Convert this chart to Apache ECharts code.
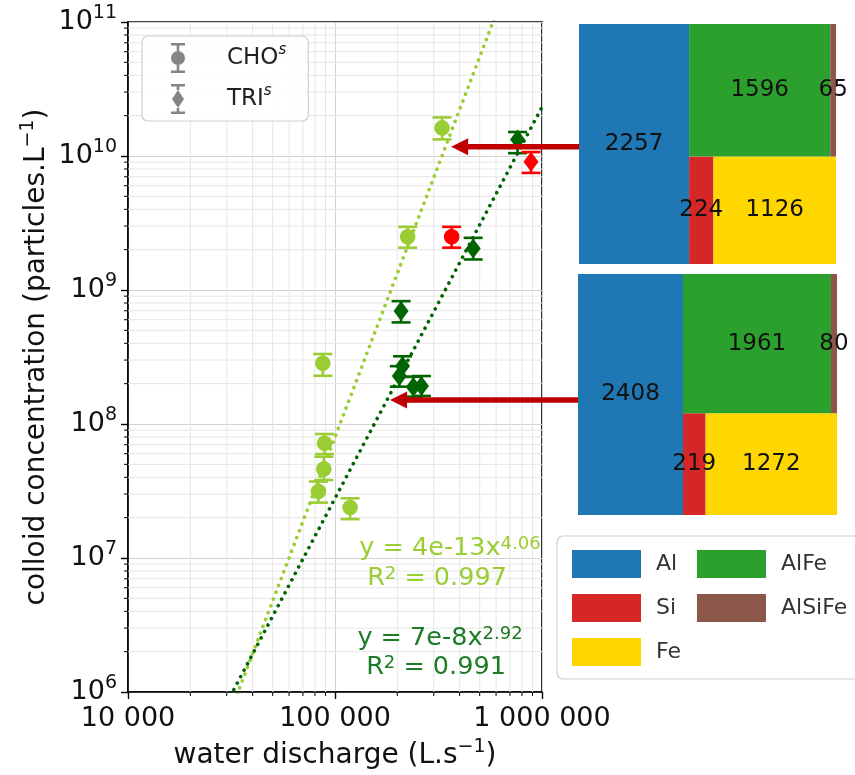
<!DOCTYPE html>
<html><head><meta charset="utf-8">
<script src="https://cdn.jsdelivr.net/npm/echarts@6/dist/echarts.min.js"></script>
<style>html,body{margin:0;padding:0;background:#fff}#c{width:855px;height:775px}</style>
</head><body><div id="c"></div>
<script>
// ---------------- data ----------------
const xTicks = [10000, 100000, 1000000];
const yTicks = [1e6, 1e7, 1e8, 1e9, 1e10, 1e11];

// CHO^s (circles)
const choX   = [329000, 224400, 366000, 87300, 89000, 88300, 83200, 118300];
const choY   = [1.62e10, 2.50e9, 2.50e9, 2.84e8, 7.18e7, 4.61e7, 3.13e7, 2.38e7];
const choLo  = [1.33e10, 2.07e9, 2.07e9, 2.29e8, 5.97e7, 3.82e7, 2.59e7, 1.95e7];
const choHi  = [1.94e10, 2.96e9, 2.96e9, 3.33e8, 8.42e7, 5.70e7, 3.72e7, 2.79e7];
const choRed = [0, 0, 1, 0, 0, 0, 0, 0];

// TRI^s (diamonds)
const triX   = [762000, 885000, 465000, 208500, 212000, 204600, 239000, 261500];
const triY   = [1.33e10, 9.04e9, 2.04e9, 6.96e8, 2.71e8, 2.28e8, 1.89e8, 1.92e8];
const triLo  = [1.05e10, 7.48e9, 1.69e9, 5.73e8, 2.25e8, 1.90e8, 1.60e8, 1.62e8];
const triHi  = [1.51e10, 1.07e10, 2.45e9, 8.26e8, 3.20e8, 2.70e8, 2.25e8, 2.28e8];
const triRed = [0, 1, 0, 0, 0, 0, 0, 0];

// power-law fits  y = a * x^b
const fitCHO = [4e-13, 4.06]; const r2CHO = 0.997;
const fitTRI = [7e-8, 2.92];  const r2TRI = 0.991;

// composition mosaics
const elements    = ['Al', 'Si', 'Fe', 'AlFe', 'AlSiFe'];
const panelTop    = [2257, 224, 1126, 1596, 65];
const panelBottom = [2408, 219, 1272, 1961, 80];

// arrows (data space of main plot)
const arrowTipX  = [364000, 184500];
const arrowY     = [1.17e10, 1.51e8];
const arrowTailX = [1.55e6, 1.55e6];

// ---------------- styles ----------------
const FONT = 'DejaVu Sans';
const LIGHT = '#9acd32', DARK = '#006400', RED = '#ff0000', EQDARK = '#1e7b25';
const elemColors = ['#1f77b4', '#d62728', '#ffd700', '#2ca02c', '#8c564b'];

// ---------------- squarify (same algorithm as python squarify) ----------------
const sum = a => a.reduce((s, v) => s + v, 0);
function layoutRow(s, x, y, dx, dy) { const w = sum(s) / dy; return s.map(v => { const r = {x, y, dx: w, dy: v / w}; y += v / w; return r; }); }
function layoutCol(s, x, y, dx, dy) { const h = sum(s) / dx; return s.map(v => { const r = {x, y, dx: v / h, dy: h}; x += v / h; return r; }); }
function layout(s, x, y, dx, dy) { return dx >= dy ? layoutRow(s, x, y, dx, dy) : layoutCol(s, x, y, dx, dy); }
function leftover(s, x, y, dx, dy) {
  const c = sum(s);
  if (dx >= dy) { const w = c / dy; return [x + w, y, dx - w, dy]; }
  const h = c / dx; return [x, y + h, dx, dy - h];
}
function worst(s, x, y, dx, dy) { return Math.max(...layout(s, x, y, dx, dy).map(r => Math.max(r.dx / r.dy, r.dy / r.dx))); }
function squarify(s, x, y, dx, dy) {
  if (!s.length) return [];
  if (s.length === 1) return layout(s, x, y, dx, dy);
  let i = 1;
  while (i < s.length && worst(s.slice(0, i), x, y, dx, dy) >= worst(s.slice(0, i + 1), x, y, dx, dy)) i++;
  const cur = s.slice(0, i), rem = s.slice(i);
  return layout(cur, x, y, dx, dy).concat(squarify(rem, ...leftover(cur, x, y, dx, dy)));
}
function mosaic(values) {
  const t = sum(values);
  return squarify(values.map(v => v / t * 10000), 0, 0, 100, 100);
}

function panelSeries(values, idx) {
  const rects = mosaic(values);
  return elements.map((name, i) => ({
    type: 'custom', name, xAxisIndex: idx, yAxisIndex: idx, z: 7, clip: false, silent: true,
    itemStyle: {color: elemColors[i]},
    data: [[rects[i].x, rects[i].y, rects[i].dx, rects[i].dy, values[i]]],
    renderItem: (p, api) => {
      const a = api.coord([api.value(0), api.value(1) + api.value(3)]);
      const b = api.coord([api.value(0) + api.value(2), api.value(1)]);
      return {type: 'group', children: [
        {type: 'rect', shape: {x: a[0], y: a[1], width: b[0] - a[0], height: b[1] - a[1]}, style: {fill: api.visual('color')}},
        {type: 'text', z2: 20, x: (a[0] + b[0]) / 2, y: (a[1] + b[1]) / 2,
         style: {text: String(api.value(4)), fill: '#111', fontSize: 23, fontFamily: FONT, align: 'center', verticalAlign: 'middle'}}
      ]};
    }
  }));
}

function errSeries(name, X, Y, Lo, Hi, Red, shape) {
  return {
    type: 'custom', name, xAxisIndex: 0, yAxisIndex: 0, z: 4, clip: false,
    data: X.map((x, i) => [x, Y[i], Lo[i], Hi[i], Red[i]]),
    renderItem: (p, api) => {
      const c = api.coord([api.value(0), api.value(1)]);
      const t = api.coord([api.value(0), api.value(3)]);
      const b = api.coord([api.value(0), api.value(2)]);
      const col = api.value(4) ? RED : (shape === 'circle' ? LIGHT : DARK);
      const ls = {stroke: col, lineWidth: 2.6};
      const marker = shape === 'circle'
        ? {type: 'circle', shape: {cx: c[0], cy: c[1], r: 7.8}, style: {fill: col}}
        : {type: 'polygon', shape: {points: [[c[0], c[1] - 10], [c[0] + 7.5, c[1]], [c[0], c[1] + 10], [c[0] - 7.5, c[1]]]}, style: {fill: col}};
      return {type: 'group', children: [
        {type: 'line', shape: {x1: c[0], y1: t[1], x2: c[0], y2: b[1]}, style: ls},
        {type: 'line', shape: {x1: c[0] - 9.5, y1: t[1], x2: c[0] + 9.5, y2: t[1]}, style: ls},
        {type: 'line', shape: {x1: c[0] - 9.5, y1: b[1], x2: c[0] + 9.5, y2: b[1]}, style: ls},
        marker
      ]};
    }
  };
}

function fitSeries(fit, color) {
  const x0 = xTicks[0], x1 = xTicks[xTicks.length - 1];
  return {
    type: 'line', xAxisIndex: 0, yAxisIndex: 0, z: 2, symbol: 'none', silent: true,
    data: [[x0, fit[0] * Math.pow(x0, fit[1])], [x1, fit[0] * Math.pow(x1, fit[1])]],
    lineStyle: {color, width: 3.6, type: [0.1, 7.2], cap: 'round'}
  };
}

// minor decades (2..9 x 10^k)
const xMinor = [], yMinor = [];
for (let k = 0; k < xTicks.length - 1; k++) for (let m = 2; m <= 9; m++) xMinor.push(m * xTicks[k]);
for (let k = 0; k < yTicks.length - 1; k++) for (let m = 2; m <= 9; m++) yMinor.push(m * yTicks[k]);

const minorSeries = {
  type: 'custom', xAxisIndex: 0, yAxisIndex: 0, z: 1, clip: false, silent: true,
  data: xMinor.map(v => [v, 0]).concat(yMinor.map(v => [v, 1])),
  renderItem: (p, api) => {
    const v = api.value(0), isY = api.value(1) === 1;
    const xmin = xTicks[0], xmax = xTicks[xTicks.length - 1], ymin = yTicks[0], ymax = yTicks[yTicks.length - 1];
    const grid = {stroke: '#e6e6e6', lineWidth: 1};
    const tick = {stroke: '#000', lineWidth: 1};
    if (!isY) {
      const a = api.coord([v, ymin]), b = api.coord([v, ymax]);
      return {type: 'group', children: [
        {type: 'line', shape: {x1: a[0], y1: a[1], x2: b[0], y2: b[1]}, style: grid},
        {type: 'line', shape: {x1: a[0], y1: a[1], x2: a[0], y2: a[1] + 4}, style: tick}
      ]};
    }
    const a = api.coord([xmin, v]), b = api.coord([xmax, v]);
    return {type: 'group', children: [
      {type: 'line', shape: {x1: a[0], y1: a[1], x2: b[0], y2: b[1]}, style: grid},
      {type: 'line', shape: {x1: a[0] - 4, y1: a[1], x2: a[0], y2: a[1]}, style: tick}
    ]};
  }
};

const arrowSeries = {
  type: 'custom', xAxisIndex: 0, yAxisIndex: 0, z: 6, clip: false, silent: true,
  data: arrowTipX.map((x, i) => [x, arrowY[i], arrowTailX[i]]),
  renderItem: (p, api) => {
    const tip = api.coord([api.value(0), api.value(1)]);
    const tail = api.coord([api.value(2), api.value(1)]);
    const col = '#c00000';
    return {type: 'group', children: [
      {type: 'line', shape: {x1: tip[0] + 14, y1: tip[1], x2: tail[0], y2: tail[1]}, style: {stroke: col, lineWidth: 5.5}},
      {type: 'polygon', shape: {points: [[tip[0], tip[1]], [tip[0] + 17, tip[1] - 8.5], [tip[0] + 17, tip[1] + 8.5]]}, style: {fill: col}}
    ]};
  }
};

const fmtThousands = v => String(Math.round(v)).replace(/\B(?=(\d{3})+(?!\d))/g, ' ');
const supRich = {
  b: {fontSize: 27, fontFamily: FONT, color: '#111', lineHeight: 36},
  s: {fontSize: 19, fontFamily: FONT, color: '#111', lineHeight: 19, verticalAlign: 'top'}
};

const circleIcon = 'path://M2,0H16V2.6H2ZM7.7,2.6H10.3V8H7.7ZM7.7,22H10.3V27.4H7.7ZM2,27.4H16V30H2ZM2,15A7,7 0 1,1 16,15A7,7 0 1,1 2,15Z';
const diamondIcon = 'path://M2,0H16V2.6H2ZM7.7,2.6H10.3V6H7.7ZM7.7,24H10.3V27.4H7.7ZM2,27.4H16V30H2ZM9,6L15,15L9,24L3,15Z';

const sup = t => '{s|' + t + '}';
const eqText = (x, y, text, color) => ({
  type: 'text', x, y, z: 10,
  style: {text, fill: color, fontSize: 25.5, fontFamily: FONT, align: 'center', verticalAlign: 'middle',
          rich: {s: {fontSize: 18, lineHeight: 18, verticalAlign: 'top', fontFamily: FONT, fill: color}}}
});
const fmtCoef = a => a.toExponential(0).replace('+', '');

const option = {
  backgroundColor: '#fff',
  animation: false,
  grid: [
    {left: 128, top: 22, width: 414, height: 670, show: true, borderColor: '#000', borderWidth: 1.6, outerBoundsMode: 'none'},
    {left: 579, top: 24, width: 257, height: 240, show: false, outerBoundsMode: 'none'},
    {left: 578, top: 274, width: 259, height: 241, show: false, outerBoundsMode: 'none'}
  ],
  xAxis: [
    {type: 'log', logBase: 10, min: xTicks[0], max: xTicks[xTicks.length - 1], gridIndex: 0,
     name: 'water discharge (L.s' + sup('−1') + ')', nameLocation: 'middle', nameGap: 46,
     nameTextStyle: {fontSize: 28, fontFamily: FONT, color: '#111', lineHeight: 36,
       rich: {s: {fontSize: 19, lineHeight: 19, verticalAlign: 'top', fontFamily: FONT, color: '#111'}}},
     axisLine: {show: true, lineStyle: {color: '#000', width: 1.6}},
     axisTick: {show: true, inside: false, length: 7, lineStyle: {color: '#000', width: 1.4}},
     axisLabel: {formatter: fmtThousands, fontSize: 27, fontFamily: FONT, color: '#111', margin: 13},
     splitLine: {show: true, lineStyle: {color: '#d2d2d2', width: 1}},
     minorTick: {show: false}, minorSplitLine: {show: false}},
    {type: 'value', gridIndex: 1, min: 0, max: 100, show: false},
    {type: 'value', gridIndex: 2, min: 0, max: 100, show: false}
  ],
  yAxis: [
    {type: 'log', logBase: 10, min: yTicks[0], max: yTicks[yTicks.length - 1], gridIndex: 0,
     name: 'colloid concentration (particles.L' + sup('−1') + ')', nameLocation: 'middle', nameGap: 72, nameRotate: 90,
     nameTextStyle: {fontSize: 28, fontFamily: FONT, color: '#111', lineHeight: 36,
       rich: {s: {fontSize: 19, lineHeight: 19, verticalAlign: 'top', fontFamily: FONT, color: '#111'}}},
     axisLine: {show: true, lineStyle: {color: '#000', width: 1.6}},
     axisTick: {show: true, inside: false, length: 7, lineStyle: {color: '#000', width: 1.4}},
     axisLabel: {formatter: v => '{b|10}{s|' + Math.round(Math.log10(v)) + '}', rich: supRich, margin: 11},
     splitLine: {show: true, lineStyle: {color: '#d2d2d2', width: 1}},
     minorTick: {show: false}, minorSplitLine: {show: false}},
    {type: 'value', gridIndex: 1, min: 0, max: 100, show: false},
    {type: 'value', gridIndex: 2, min: 0, max: 100, show: false}
  ],
  legend: [
    {data: [{name: 'CHO', icon: circleIcon, itemStyle: {color: '#858585'}},
            {name: 'TRI', icon: diamondIcon, itemStyle: {color: '#858585'}}],
     orient: 'vertical', left: 142, top: 36, padding: [7, 22, 7, 29],
     itemWidth: 18, itemHeight: 30, itemGap: 11, selectedMode: false,
     backgroundColor: 'rgba(255,255,255,0.9)', borderColor: '#cfcfcf', borderWidth: 1.2, borderRadius: 6,
     formatter: n => '{n|' + n + '}{s|s}',
     textStyle: {padding: [0, 0, 0, 35], rich: {
       n: {fontSize: 23, fontFamily: FONT, color: '#222', lineHeight: 30},
       s: {fontSize: 15, fontFamily: FONT, fontStyle: 'italic', color: '#222', lineHeight: 15, verticalAlign: 'top'}}}},
    {data: elements, icon: 'rect', orient: 'vertical', left: 557, top: 536, height: 120,
     padding: [14, 80, 13, 15], itemWidth: 69, itemHeight: 28, itemGap: 16, selectedMode: false,
     backgroundColor: '#fff', borderColor: '#cfcfcf', borderWidth: 1.2, borderRadius: 6,
     textStyle: {fontSize: 22, fontFamily: FONT, color: '#333', padding: [0, 0, 0, 10]}}
  ],
  graphic: [
    eqText(450, 548, 'y = ' + fmtCoef(fitCHO[0]) + 'x' + sup(fitCHO[1].toFixed(2)), LIGHT),
    eqText(437, 578, 'R' + sup('2') + ' = ' + r2CHO.toFixed(3), LIGHT),
    eqText(440, 638, 'y = ' + fmtCoef(fitTRI[0]) + 'x' + sup(fitTRI[1].toFixed(2)), EQDARK),
    eqText(436, 667, 'R' + sup('2') + ' = ' + r2TRI.toFixed(3), EQDARK)
  ],
  series: [
    minorSeries,
    fitSeries(fitCHO, LIGHT),
    fitSeries(fitTRI, DARK),
    errSeries('CHO', choX, choY, choLo, choHi, choRed, 'circle'),
    errSeries('TRI', triX, triY, triLo, triHi, triRed, 'diamond'),
    arrowSeries
  ].concat(panelSeries(panelTop, 1), panelSeries(panelBottom, 2))
};

const chart = echarts.init(document.getElementById('c'), null, {renderer: 'canvas'});
chart.setOption(option);
</script>
</body></html>
